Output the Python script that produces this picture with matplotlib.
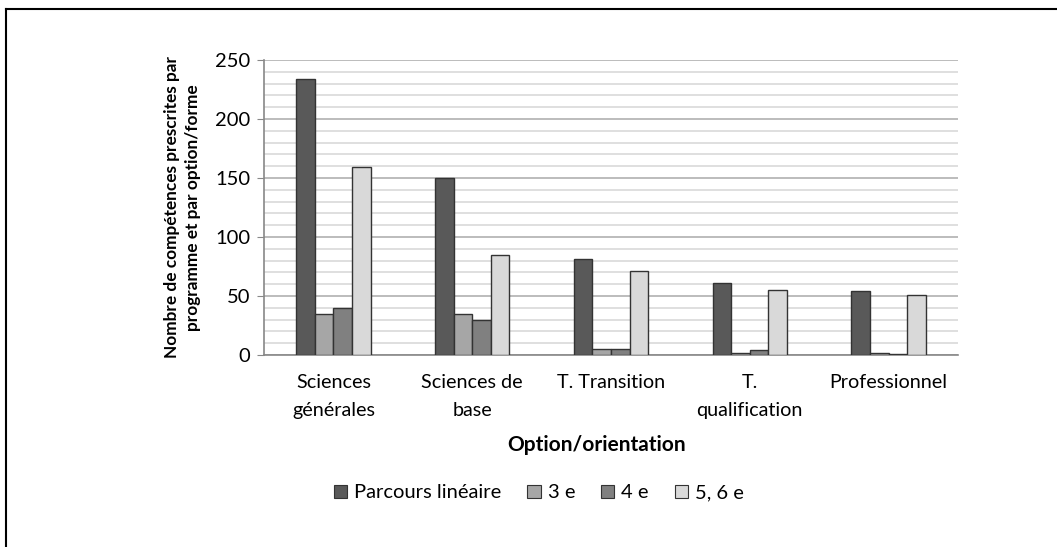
import numpy as np
import matplotlib
matplotlib.use("Agg")
import matplotlib.pyplot as plt
from matplotlib.lines import Line2D

plt.rcParams["font.family"] = ["Lato", "DejaVu Sans"]

# ── data ──
categories = ["Sciences\ngénérales", "Sciences de\nbase", "T. Transition",
              "T.\nqualification", "Professionnel"]
series_names = ["Parcours linéaire", "3 e", "4 e", "5, 6 e"]
parcours = [234, 150, 81, 61, 54]
troisieme = [35, 35, 5, 2, 2]
quatrieme = [40, 30, 5, 4, 1]
cinq_six = [159, 85, 71, 55, 51]
colors = ["#595959", "#a6a6a6", "#808080", "#d9d9d9"]

fig = plt.figure(figsize=(10.57, 5.47), dpi=100)
ax = fig.add_axes([264/1057, 1 - 355/547, (958-264)/1057, (355-60)/547])

x = np.arange(len(categories))
w = 0.134
for i, (vals, c, name) in enumerate(zip([parcours, troisieme, quatrieme, cinq_six],
                                        colors, series_names)):
    ax.bar(x + (i - 1.5) * w, vals, width=w, color=c, edgecolor="#333333",
           linewidth=1.0, label=name, zorder=3)

ax.set_xlim(-0.5, len(categories) - 0.5)
ax.set_ylim(0, 250)
ax.set_yticks(range(0, 251, 50))
ax.set_yticks(range(0, 251, 10), minor=True)
ax.grid(axis="y", which="minor", color="#d9d9d9", lw=1.2, zorder=0)
ax.grid(axis="y", which="major", color="#b0b0b0", lw=1.2, zorder=0)
ax.tick_params(axis="y", which="major", length=5, color="#888888", labelsize=14.5, pad=5)
ax.tick_params(axis="y", which="minor", length=0)
ax.tick_params(axis="x", length=0, labelsize=14.2, pad=14)
ax.set_xticks(x)
ax.set_xticklabels(categories, ha="center", va="top", linespacing=1.75)
for s in ["top", "right"]:
    ax.spines[s].set_visible(False)
for s in ["left", "bottom"]:
    ax.spines[s].set_color("#888888")
    ax.spines[s].set_linewidth(1.2)

ax.set_ylabel("Nombre de compétences prescrites par\nprogramme et par option/forme",
              fontsize=12.4, fontweight="bold", linespacing=1.4, labelpad=10)
fig.text(597/1057, 1 - 445/547, "Option/orientation", fontsize=15,
         fontweight="bold", ha="center", va="center")

handles = [plt.Rectangle((0, 0), 1, 1, facecolor=c, edgecolor="#333333", lw=0.8)
           for c in colors]
fig.legend(handles, series_names, loc="center", bbox_to_anchor=(539/1057, 1 - 493/547),
           ncol=4, frameon=False, fontsize=14.5, handlelength=0.65, handleheight=0.65,
           handletextpad=0.35, columnspacing=1.3)

# outer chart border (top and left visible)
fig.add_artist(Line2D([6/1057, 6/1057], [0, 1 - 9/547], color="black", lw=1.5,
                      transform=fig.transFigure))
fig.add_artist(Line2D([6/1057, 1], [1 - 9/547, 1 - 9/547], color="black", lw=1.5,
                      transform=fig.transFigure))

fig.savefig("out.png", dpi=100)
